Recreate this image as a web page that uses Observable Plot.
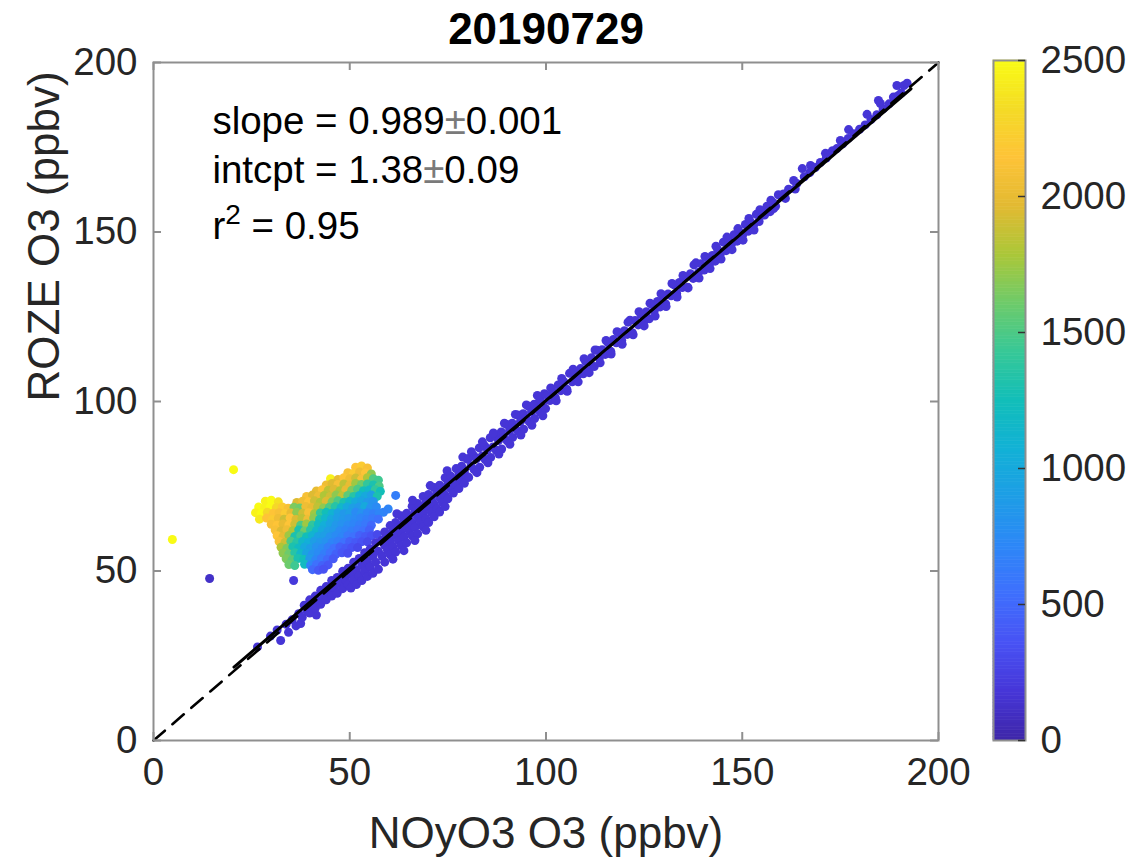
<!DOCTYPE html>
<html><head><meta charset="utf-8">
<script src="https://cdn.jsdelivr.net/npm/d3@7"></script>
<script src="https://cdn.jsdelivr.net/npm/@observablehq/plot@0.6"></script>
<style>
html,body{margin:0;padding:0;background:#fff;}
#wrap{position:relative;width:1135px;height:859px;background:#fff;}
#wrap svg{position:absolute;left:0;top:0;}
</style></head><body><div id="wrap"></div>
<script>
// ---------- data ----------
const titleText = "20190729";
const xLabel = "NOyO3 O3 (ppbv)";
const yLabel = "ROZE O3 (ppbv)";
const xTicks = [0, 50, 100, 150, 200];
const yTicks = [0, 50, 100, 150, 200];
const cTicks = [0, 500, 1000, 1500, 2000, 2500];
const parula = ["#3e26a8", "#4636d8", "#4852f4", "#3f6ffd", "#2d87f7", "#1e9de6", "#12b1d6", "#12beb9", "#37c897", "#6ecb6a", "#abc739", "#e2ba32", "#fec338", "#f4db26", "#f9fb15"];
const statsLines = ["slope = 0.989±0.001", "intcpt = 1.38±0.09", "r2 = 0.95"];
const statsX = [15, 15, 15];
const statsY = [182.5, 168, 151.5];
const oneToOne = [[0, 0], [200, 200]];
const fitLine = [[20.5, 21.65], [193, 192.26]];

// coloured cluster and outliers: [NOyO3, ROZE, altitude-colour value]
const cluster = [
  [4.8,59.3,2500],[20.4,79.9,2500],[14.3,47.8,120],[35.7,47.2,200],[45.1,77.2,2450],[61.7,72.3,650],[59.8,68.3,700],[58.6,67.3,680],
  [51.5,80.6,2150],[53.0,81.0,2200],[54.5,80.4,2100],
  [49.5,79.0,2100],[51.0,78.8,2200],[52.5,79.2,2050],[54.0,78.9,2150],[55.5,78.6,1700],
  [47.0,77.0,2000],[48.5,77.5,2150],[50.0,77.2,2050],[51.5,77.4,1900],[53.0,77.1,2100],[54.5,77.5,1800],[56.0,77.2,1500],[57.3,76.8,1450],
  [44.0,75.4,2050],[45.5,75.8,1950],[47.0,75.5,2100],[48.5,75.7,1850],[50.0,75.4,2000],[51.5,75.8,1750],[53.0,75.5,1600],[54.5,75.7,1400],[56.0,75.4,1300],[57.5,75.0,1500],
  [41.5,73.6,2000],[43.0,74.0,2150],[44.5,73.8,1850],[46.0,74.1,1950],[47.5,73.7,1800],[49.0,74.0,2000],[50.5,73.8,1650],[52.0,74.1,1500],[53.5,73.7,1250],[55.0,73.9,1150],[56.5,74.0,1400],[57.8,73.5,1250],
  [39.0,72.0,2100],[40.5,72.4,1950],[42.0,72.1,2050],[43.5,72.3,1800],[45.0,72.0,1900],[46.5,72.4,1700],[48.0,72.1,1850],[49.5,72.3,1550],[51.0,72.0,1350],[52.5,72.3,1100],[54.0,72.1,1000],[55.5,72.4,900],[57.0,72.0,1300],
  [28.5,70.6,2450],[30.0,70.9,2500],[31.8,70.4,2350],[36.5,70.2,1950],[38.0,70.6,2050],[39.5,70.4,2150],[41.0,70.7,1900],[42.5,70.3,1800],[44.0,70.6,1950],[45.5,70.4,1650],[47.0,70.7,1500],[48.5,70.3,1300],[50.0,70.6,1150],[51.5,70.4,1000],[53.0,70.7,950],[54.5,70.3,850],[56.0,70.5,800],
  [26.8,68.9,2500],[28.3,68.6,2450],[29.8,69.0,2500],[31.3,68.7,2300],[32.8,68.9,2200],[34.3,68.5,2100],[35.8,68.8,1650],[37.3,68.6,1600],[38.8,69.0,2050],[40.3,68.7,2000],[41.8,68.9,1850],[43.3,68.6,1700],[44.8,68.8,1500],[46.3,69.0,1350],[47.8,68.7,1150],[49.3,68.9,1000],[50.8,68.6,900],[52.3,68.8,850],[53.8,69.0,1000],[55.3,68.7,800],[56.8,68.9,750],
  [26.0,67.2,2450],[27.5,66.9,2500],[29.0,67.3,2300],[30.5,67.0,2150],[32.0,67.2,2100],[33.5,66.9,2200],[35.0,67.1,2000],[36.5,67.3,1700],[38.0,67.0,1900],[39.5,67.2,2100],[41.0,66.9,1750],[42.5,67.1,1400],[44.0,67.3,1250],[45.5,67.0,1100],[47.0,67.2,950],[48.5,66.9,850],[50.0,67.1,900],[51.5,67.3,750],[53.0,67.0,800],[54.5,67.2,700],[56.0,66.9,650],[57.5,67.1,700],
  [27.0,65.3,2400],[28.8,65.6,2150],[30.3,65.2,2200],[31.8,65.5,2050],[33.3,65.3,1900],[34.8,65.6,2150],[36.3,65.2,1950],[37.8,65.5,1850],[39.3,65.3,2050],[40.8,65.6,1700],[42.3,65.2,1300],[43.8,65.5,1150],[45.3,65.3,1000],[46.8,65.6,900],[48.3,65.2,850],[49.8,65.5,800],[51.3,65.3,750],[52.8,65.6,700],[54.3,65.2,650],[55.8,65.5,600],[57.3,65.3,550],
  [30.0,63.8,2100],[31.5,63.5,2150],[33.0,63.9,2000],[34.5,63.6,2150],[36.0,63.8,1900],[37.5,63.5,1500],[39.0,63.9,1750],[40.5,63.6,1400],[42.0,63.8,1200],[43.5,63.5,1050],[45.0,63.9,950],[46.5,63.6,850],[48.0,63.8,800],[49.5,63.5,750],[51.0,63.9,700],[52.5,63.6,650],[54.0,63.8,600],[55.5,63.5,500],
  [31.0,62.1,2100],[32.5,61.8,1950],[34.0,62.2,2050],[35.5,61.9,1800],[37.0,62.1,1300],[38.5,61.8,1600],[40.0,62.2,1350],[41.5,61.9,1150],[43.0,62.1,1000],[44.5,61.8,900],[46.0,62.2,850],[47.5,61.9,750],[49.0,62.1,700],[50.5,61.8,650],[52.0,62.2,600],[53.5,61.9,550],[55.0,62.1,450],
  [31.5,60.4,2150],[33.0,60.1,2000],[34.5,60.5,1750],[36.0,60.2,1300],[37.5,60.4,1450],[39.0,60.1,1250],[40.5,60.5,1100],[42.0,60.2,950],[43.5,60.4,900],[45.0,60.1,800],[46.5,60.5,750],[48.0,60.2,700],[49.5,60.4,600],[51.0,60.1,550],[52.5,60.5,450],[54.0,60.2,400],[55.5,60.4,350],[57.0,60.8,300],
  [32.0,58.7,2100],[33.5,58.4,1900],[35.0,58.8,1500],[36.5,58.5,1350],[38.0,58.7,1150],[39.5,58.4,1050],[41.0,58.8,900],[42.5,58.5,850],[44.0,58.7,800],[45.5,58.4,700],[47.0,58.8,650],[48.5,58.5,550],[50.0,58.7,450],[51.5,58.4,400],[53.0,58.6,350],[54.5,58.6,300],
  [32.5,57.0,1800],[34.0,56.7,1650],[35.5,57.1,1300],[37.0,56.8,1200],[38.5,57.0,1000],[40.0,56.7,900],[41.5,57.1,800],[43.0,56.8,750],[44.5,57.0,650],[46.0,56.7,550],[47.5,57.1,450],[49.0,56.8,400],[50.5,56.9,350],[52.0,56.9,300],
  [33.0,55.3,1700],[34.5,55.0,1600],[36.0,55.4,1350],[37.5,55.1,1150],[39.0,55.3,950],[40.5,55.0,800],[42.0,55.4,750],[43.5,55.1,650],[45.0,55.3,550],[46.5,55.0,450],[48.0,55.4,380],[49.5,55.2,330],
  [33.8,53.6,1650],[35.3,53.3,1550],[36.8,53.7,1300],[38.3,53.4,1250],[39.8,53.6,850],[41.3,53.3,700],[42.8,53.7,600],[44.3,53.4,500],[45.8,53.6,400],
  [34.5,51.9,1600],[36.0,51.6,1450],[38.5,52.0,1200],[40.0,51.7,700],[41.5,51.9,550],[43.0,51.6,450],[44.5,51.8,380],
  [40.5,50.4,500],[42.0,50.2,400],[43.3,50.5,350]
];

// main (low-altitude) band along the 1:1 line: [NOyO3, ROZE]
const bandValue = 170;
const bandTail = [[26.5,27.6],[29.8,30.8],[31.5,32.6],[32.4,29.5],[33.8,34.3],[34.4,31.9],[35.3,35.6],[36.3,33.8],[37.0,37.4],[37.5,34.5],[37.9,36.3],[41.5,37.0]];
const bandLow = [
  [38.4,39.9],[39.8,41.5],[41.2,42.6],[42.6,44.3],[44.0,45.4],[45.4,47.2],[46.8,48.1],[48.2,49.9],[49.6,50.8],[51.0,52.6],[52.4,53.7],[53.8,55.4],[55.2,56.5],[56.6,58.3],
  [39.1,38.2],[40.5,39.3],[41.9,40.9],[43.3,42.0],[44.7,43.6],[46.1,44.8],[47.5,46.3],[48.9,47.5],[50.3,49.0],[51.7,50.3],[53.1,51.7],[54.5,52.9],[55.9,54.5],[57.3,55.8],
  [39.8,37.6],[41.2,39.0],[42.6,40.2],[44.0,41.5],[45.4,42.6],[46.8,43.4],[48.2,44.8],[49.6,46.0],[51.0,47.3],[52.4,48.6],[53.8,49.9],[55.2,51.2],[56.6,52.6],
  [50.3,45.0],[51.7,46.0],[53.1,47.2],[54.5,48.4],[55.9,49.3],[57.3,50.5]
];
const bandMid = [
  [58.9,61.5],[60.3,63.4],[61.7,64.3],[63.1,66.3],[64.5,67.0],[65.9,69.1],[67.3,69.9],[68.7,72.0],[70.1,72.6],[71.5,74.6],[72.9,75.3],[74.3,77.5],[75.7,78.0],[77.1,80.2],[78.5,80.9],[79.9,83.0],
  [58.2,59.1],[59.6,60.1],[61.0,62.0],[62.4,63.0],[63.8,64.7],[65.2,65.7],[66.6,67.5],[68.0,68.4],[69.4,70.3],[70.8,71.2],[72.2,73.0],[73.6,74.0],[75.0,75.8],[76.4,76.8],[77.8,78.6],[79.2,79.5],
  [58.9,57.6],[60.3,58.7],[61.7,60.5],[63.1,61.4],[64.5,63.2],[65.9,64.1],[67.3,65.9],[68.7,67.0],[70.1,68.7],[71.5,69.7],[72.9,71.6],[74.3,72.4],[75.7,74.3],[77.1,75.3],[78.5,77.0],[79.9,77.9],
  [58.2,54.4],[59.6,56.2],[61.0,57.2],[62.4,59.0],[63.8,60.0],[65.2,61.8],[66.6,62.9],[68.0,64.5],[69.4,65.5],[70.8,67.3],[72.2,68.4],[73.6,70.2],[75.0,71.3],[76.4,73.0],[77.8,74.3],[79.2,75.9],
  [58.9,52.6],[60.3,54.8],[61.7,55.6],[63.1,57.5],[64.5,58.3],[65.9,60.4],[67.3,61.0],[68.7,63.0],[70.1,64.3],[71.5,66.0],[72.9,67.4],[74.3,69.0],
  [61.0,53.5],[63.8,56.0],[66.6,59.0],[69.4,62.0],
  [62.0,66.9],[66.0,70.9],[70.5,75.2],[74.8,79.6],[78.8,83.6]
];
const bandUpperMid = [
  [80.2,83.2],[81.6,84.0],[83.0,86.3],[84.4,86.9],[85.8,89.3],[87.2,89.8],[88.6,91.0],[90.0,93.2],[91.4,93.6],[92.8,96.0],[94.2,96.4],[95.6,98.6],[97.0,99.2],[98.4,100.8],[99.6,102.3],
  [80.9,81.0],[82.3,83.1],[83.7,83.9],[85.1,85.8],[86.5,86.6],[87.9,88.5],[89.3,89.4],[90.7,91.3],[92.1,92.2],[93.5,94.1],[94.9,95.0],[96.3,96.9],[97.7,97.8],[99.1,99.5],
  [80.3,77.6],[81.7,79.9],[83.1,80.6],[84.5,82.9],[85.9,83.5],[87.3,85.6],[88.7,86.0],[90.1,88.4],[91.5,89.4],[92.9,91.2],[94.3,91.8],[95.7,94.1],[97.1,95.0],[98.5,96.9],[99.9,97.9],
  [81.0,85.2],[83.8,88.1],[86.6,90.7],[89.4,93.6],[92.2,96.2],[95.0,99.0],[97.8,101.8],
  [82.4,79.0],[85.2,81.9],[88.0,84.5],[90.8,87.4],[93.6,90.1],[96.4,93.0],[99.2,95.8]
];
const bandHigh = [
  [100.3,101.8],[101.8,102.9],[103.1,104.9],[104.6,105.8],[106.0,108.3],[107.3,108.8],[108.8,109.7],[110.1,111.8],[111.6,112.9],[113.0,115.1],[114.3,115.3],[115.8,117.3],[117.2,118.3],[118.5,120.3],[120.0,120.9],[121.4,124.0],[122.7,123.9],[124.2,125.7],[125.6,126.5],[126.9,128.7],[128.4,129.5],[129.8,131.2],[131.1,131.7],[132.6,134.4],[134.0,135.1],[135.3,136.7],[136.8,137.7],[138.2,140.9],[139.5,140.6],[141.0,142.4],[142.4,143.1],[143.7,144.9],[145.2,147.0],[146.6,147.5],[147.9,149.2],[149.4,149.9],[150.8,152.2],[152.1,153.0],[153.6,155.2],[155.0,155.7],[156.3,157.6],[157.8,158.7],[159.2,161.0],
  [101.0,100.3],[102.4,101.1],[103.8,103.2],[105.3,103.6],[106.7,105.8],[108.0,107.6],[109.5,108.2],[110.9,109.9],[112.3,110.3],[113.6,112.8],[115.1,113.9],[116.5,114.8],[117.9,117.3],[119.3,118.0],[120.7,119.8],[122.0,120.3],[123.5,122.6],[124.9,123.6],[126.3,124.4],[127.6,126.8],[129.1,127.9],[130.5,128.8],[131.9,131.2],[133.3,131.8],[134.7,133.6],[136.1,133.7],[137.5,136.3],[138.9,138.1],[140.3,138.8],[141.7,140.6],[143.1,141.4],[144.4,143.4],[145.9,144.5],[147.3,146.5],[148.7,147.3],[150.1,149.1],[151.5,150.2],[152.9,152.1],[154.3,153.1],[155.7,155.0],[157.1,156.0],[158.5,157.6],
  [101.2,104.0],[104.0,106.8],[106.9,109.5],[109.7,112.6],[112.5,115.2],[115.3,118.0],[118.1,120.6],[120.9,123.4],[123.7,126.5],[126.5,129.0],[129.3,131.8],[132.1,134.8],[134.9,137.2],[137.7,140.3],[140.5,142.8],[143.3,145.8],[146.1,148.5],[148.9,151.0],[151.7,154.0],[154.5,156.6],[157.3,159.4],
  [102.6,100.2],[105.4,103.0],[108.2,105.8],[111.0,108.5],[113.8,111.4],[116.6,114.0],[119.4,116.9],[122.2,119.7],[125.0,122.3],[127.8,125.2],[130.6,128.0],[133.4,130.8],[136.2,133.5],[139.0,136.4],[141.8,139.2],[144.6,142.0],[147.4,144.8],[150.2,147.6],[153.0,150.6]
];
const bandTop = [
  [158.0,156.9],[161.0,159.9],[163.5,162.7],
  [160.5,161.2],[161.8,162.6],[163.1,165.2],[163.9,164.3],[165.3,168.7],[165.8,166.3],[167.4,169.6],[167.2,167.5],[168.6,169.0],[169.9,170.5],[171.2,173.2],[171.4,171.8],[172.7,173.4],[173.0,174.0],[174.1,174.6],[175.0,177.0],[175.6,176.0],[177.1,180.2],[177.0,177.6],[178.4,179.0],[179.9,180.3],[181.8,184.7],[181.3,181.6],[182.8,183.2],[184.7,188.8],[185.2,187.9],[184.3,184.6],[185.9,186.3],[187.4,187.8],[188.5,189.8],[189.8,190.3],[189.4,193.2],[191.2,193.2],[190.5,191.0],[192.0,193.9]
];

// ---------- drawing ----------
const band = [].concat(bandTail, bandLow, bandMid, bandUpperMid, bandHigh, bandTop);
const FONT = "'Liberation Sans', Arial, Helvetica, sans-serif";
const colorScale = {type: "linear", domain: [0, 2500], interpolate: d3.piecewise(d3.interpolateRgb, parula)};
const W = 1135, H = 859;
const mL = 153, mR = 197, mT = 62, mB = 119;
const frameW = W - mL - mR, frameH = H - mT - mB;
const tickLen = 8;
const axisGray = "#8f8f8f";
const textCol = "#262626";
const R = 4.5;

const main = Plot.plot({
  width: W, height: H,
  marginLeft: mL, marginRight: mR, marginTop: mT, marginBottom: mB,
  x: {domain: [0, 200], label: null},
  y: {domain: [0, 200], label: null},
  color: colorScale,
  style: {fontFamily: FONT, color: textCol, background: "transparent", overflow: "visible"},
  marks: [
    Plot.dot(cluster, {x: d => d[0], y: d => d[1], fill: d => d[2], r: R}),
    Plot.dot(band, {x: d => d[0], y: d => d[1], fill: () => bandValue, r: R}),
    Plot.line(oneToOne, {x: d => d[0], y: d => d[1], stroke: "black", strokeWidth: 2.6, strokeDasharray: "15,10"}),
    Plot.line(fitLine, {x: d => d[0], y: d => d[1], stroke: "black", strokeWidth: 3}),
    Plot.frame({stroke: axisGray, strokeWidth: 2}),
    Plot.tickX(xTicks, {x: d => d, insetTop: frameH - tickLen, stroke: axisGray, strokeWidth: 2}),
    Plot.tickX(xTicks, {x: d => d, insetBottom: frameH - tickLen, stroke: axisGray, strokeWidth: 2}),
    Plot.tickY(yTicks, {y: d => d, insetRight: frameW - tickLen, stroke: axisGray, strokeWidth: 2}),
    Plot.tickY(yTicks, {y: d => d, insetLeft: frameW - tickLen, stroke: axisGray, strokeWidth: 2}),
    Plot.axisX({ticks: xTicks, tickSize: 0, tickPadding: 17, fontSize: 38.5, tickFormat: d => String(d), label: null}),
    Plot.axisY({ticks: yTicks, tickSize: 0, tickPadding: 16, fontSize: 38.5, tickFormat: d => String(d), label: null}),
    Plot.text([titleText], {text: d => d, frameAnchor: "top", lineAnchor: "middle", dy: -33, fontSize: 44, fontWeight: "bold", fill: "black"}),
    Plot.text([xLabel], {text: d => d, frameAnchor: "bottom", lineAnchor: "middle", dy: 93, fontSize: 44, fill: textCol}),
    Plot.text([yLabel], {text: d => d, frameAnchor: "left", lineAnchor: "middle", dx: -109, rotate: -90, fontSize: 44, fill: textCol}),
    Plot.text(statsLines, {text: d => d, x: (d, i) => statsX[i], y: (d, i) => statsY[i], textAnchor: "start", lineAnchor: "middle", fontSize: 38.5, fill: "black"})
  ]
});

const cbStep = 12.5;
const cbSlices = d3.range(0, 2500, cbStep);
const cb = Plot.plot({
  width: W, height: H,
  marginLeft: 993, marginRight: W - 1025, marginTop: 60, marginBottom: H - 740,
  x: {domain: [0, 1], axis: null},
  y: {domain: [0, 2500], axis: null},
  color: colorScale,
  style: {fontFamily: FONT, color: textCol, background: "transparent", overflow: "visible"},
  marks: [
    Plot.rect(cbSlices, {x1: 0, x2: 1, y1: d => d, y2: d => d + cbStep, fill: d => d + cbStep / 2, stroke: d => d + cbStep / 2, strokeWidth: 0.6}),
    Plot.frame({stroke: axisGray, strokeWidth: 2}),
    Plot.tickY(cTicks, {y: d => d, insetLeft: 32 - 7, stroke: "#333", strokeWidth: 1.5}),
    Plot.axisY({anchor: "right", ticks: cTicks, tickSize: 0, tickPadding: 15, fontSize: 38.5, tickFormat: d => String(d), label: null})
  ]
});

const wrap = document.getElementById("wrap");
wrap.appendChild(main);
wrap.appendChild(cb);

// rich text: grey ± and superscript 2
main.querySelectorAll("text").forEach(t => {
  const s = t.textContent;
  const NS = "http://www.w3.org/2000/svg";
  if (s.includes("±")) {
    const [a, b] = s.split("±");
    t.textContent = "";
    const t1 = document.createElementNS(NS, "tspan"); t1.textContent = a;
    const t2 = document.createElementNS(NS, "tspan"); t2.textContent = "±"; t2.setAttribute("fill", "#7a7a7a");
    const t3 = document.createElementNS(NS, "tspan"); t3.textContent = b;
    t.append(t1, t2, t3);
  } else if (s === "r2 = 0.95") {
    t.textContent = "";
    const t1 = document.createElementNS(NS, "tspan"); t1.textContent = "r";
    const t2 = document.createElementNS(NS, "tspan"); t2.textContent = "2"; t2.setAttribute("dy", "-15"); t2.setAttribute("font-size", "28");
    const t3 = document.createElementNS(NS, "tspan"); t3.textContent = " = 0.95"; t3.setAttribute("dy", "15");
    t.append(t1, t2, t3);
  }
});
</script></body></html>
